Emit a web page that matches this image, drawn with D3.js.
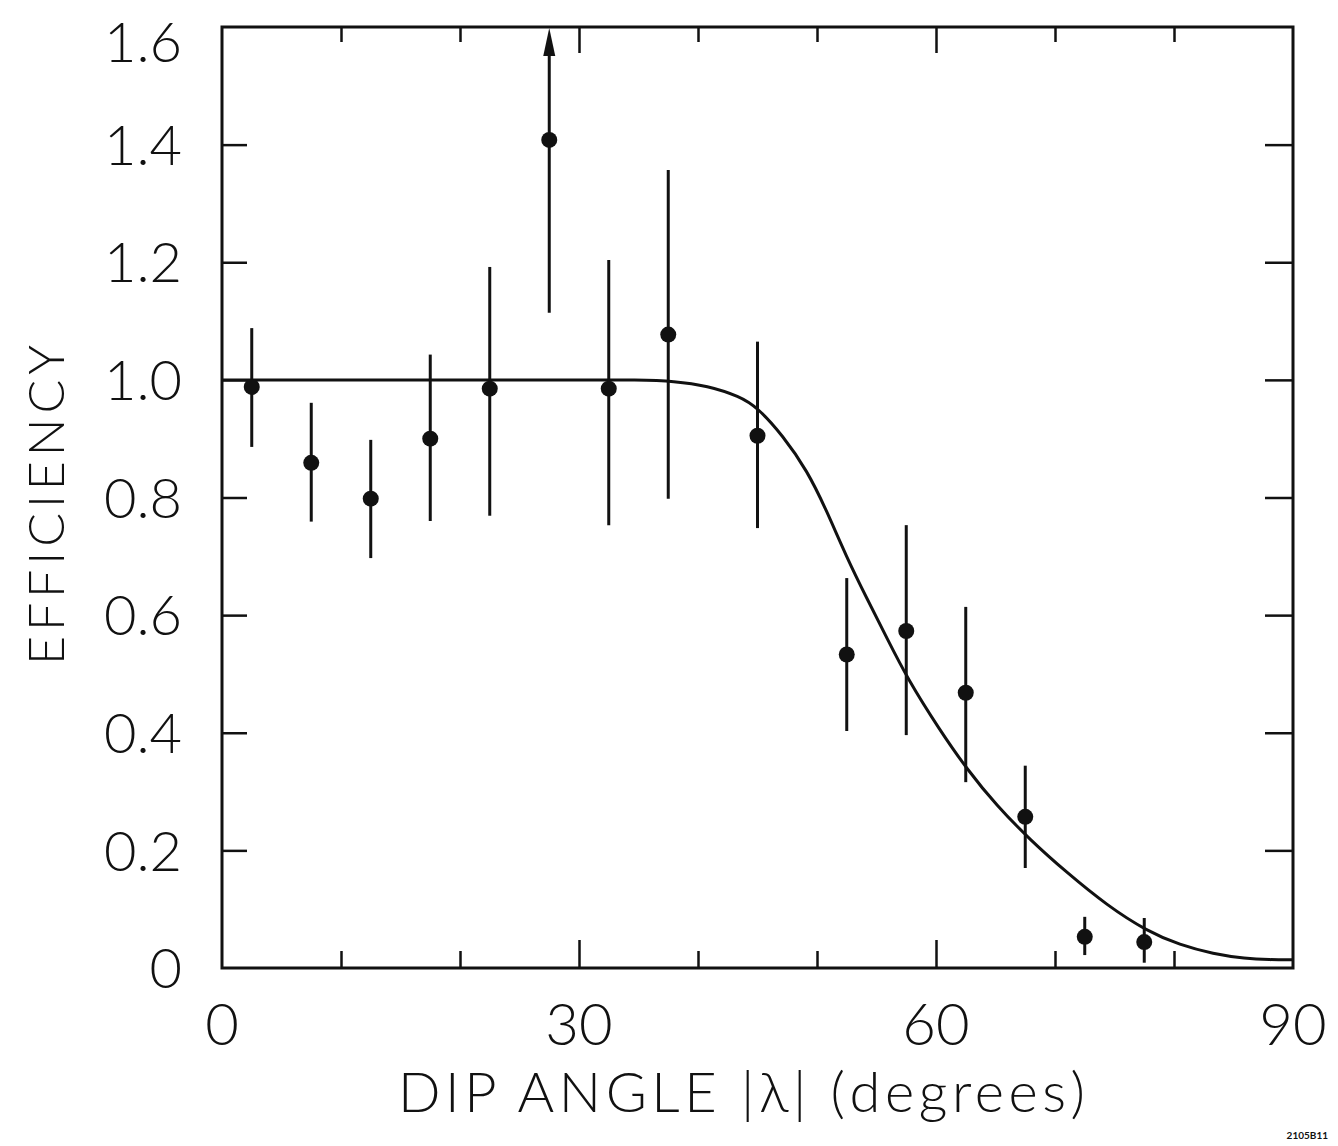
<!DOCTYPE html>
<meta charset="utf-8">
<style>
  body { margin: 0; background: #fff; }
  text { font-family: "Lato", "DejaVu Sans", sans-serif; font-weight: 300; fill: #111; }
  .ax path { stroke: #111; stroke-width: 3; }
  .ax line { stroke: #111; stroke-width: 2.5; }
</style>
<body>
<svg width="1338" height="1146"></svg>
<script src="https://d3js.org/d3.v7.min.js"></script>
<script>
  // measured points (degrees, efficiency, error low, error high)
  var angles = [2.5, 7.5, 12.5, 17.5, 22.5, 27.5, 32.5, 37.5, 45, 52.5, 57.5, 62.5, 67.5, 72.5, 77.5];
  var effic  = [0.988, 0.859, 0.798, 0.900, 0.985, 1.408, 0.985, 1.077, 0.905, 0.533, 0.573, 0.468, 0.257, 0.053, 0.044];
  var errLo  = [0.886, 0.759, 0.697, 0.760, 0.769, 1.114, 0.753, 0.798, 0.748, 0.403, 0.396, 0.316, 0.170, 0.022, 0.009];
  var errHi  = [1.088, 0.961, 0.898, 1.043, 1.192, 1.6, 1.204, 1.357, 1.065, 0.663, 0.753, 0.614, 0.344, 0.087, 0.085];
  var offScale = [27.5]; // error bar runs off the top -> arrow

  // fitted curve
  var curveX = [0, 10, 20, 30, 35, 38, 40.8, 43.5, 45, 47.1, 49.2, 50.8, 52.5, 54.2, 55.9, 57.6, 60.3, 62.6, 65.1, 67.9, 71, 74.4, 77.7, 80.5, 83.3, 86, 88, 90];
  var curveY = [1.0, 1.0, 1.0, 1.0, 1.0, 0.998, 0.99, 0.972, 0.953, 0.906, 0.845, 0.778, 0.698, 0.628, 0.560, 0.492, 0.405, 0.338, 0.276, 0.218, 0.162, 0.106, 0.063, 0.039, 0.024, 0.016, 0.014, 0.014];

  var yTickLabels = ["0", "0.2", "0.4", "0.6", "0.8", "1.0", "1.2", "1.4", "1.6"];
  var yTickVals = [0, 0.2, 0.4, 0.6, 0.8, 1.0, 1.2, 1.4, 1.6];
  var xTickVals = [0, 30, 60, 90];
  var xMinor = [10, 20, 30, 40, 50, 60, 70, 80];

  var svg = d3.select("svg");
  var mLeft = 222, mRight = 1293, mTop = 27, mBottom = 968;

  var x = d3.scaleLinear().domain([0, 90]).range([mLeft, mRight]);
  var y = d3.scaleLinear().domain([0, 1.6]).range([mBottom, mTop]);

  // frame
  svg.append("rect")
    .attr("x", mLeft).attr("y", mTop)
    .attr("width", mRight - mLeft).attr("height", mBottom - mTop)
    .attr("fill", "none").attr("stroke", "#111").attr("stroke-width", 3);

  // inward ticks, left and right
  svg.append("g").attr("class", "ax")
    .attr("transform", "translate(" + mLeft + ",0)")
    .call(d3.axisLeft(y).tickValues([0.2, 0.4, 0.6, 0.8, 1.0, 1.2, 1.4]).tickSize(-25).tickFormat(""))
    .call(function(g) { g.select(".domain").remove(); });

  svg.append("g").attr("class", "ax")
    .attr("transform", "translate(" + mRight + ",0)")
    .call(d3.axisRight(y).tickValues([0.2, 0.4, 0.6, 0.8, 1.0, 1.2, 1.4]).tickSize(-28).tickFormat(""))
    .call(function(g) { g.select(".domain").remove(); });

  // inward ticks, bottom and top (30 and 60 longer)
  var tickLen = function(d) { return (d == 30 || d == 60) ? 28 : 17; };
  var bx = svg.append("g").attr("class", "ax")
    .attr("transform", "translate(0," + mBottom + ")")
    .call(d3.axisBottom(x).tickValues(xMinor).tickSize(0).tickFormat(""));
  bx.select(".domain").remove();
  bx.selectAll(".tick line").attr("y2", function(d) { return -tickLen(d); });

  var tx = svg.append("g").attr("class", "ax")
    .attr("transform", "translate(0," + mTop + ")")
    .call(d3.axisTop(x).tickValues(xMinor).tickSize(0).tickFormat(""));
  tx.select(".domain").remove();
  tx.selectAll(".tick line").attr("y2", function(d) { return tickLen(d) - 2; });

  // tick labels (top one sits a little lower so it is not clipped)
  svg.append("g").selectAll("text")
    .data(yTickVals)
    .enter().append("text")
    .attr("x", 182)
    .attr("y", function(d) { return Math.max(y(d), 42); })
    .attr("dy", "0.36em")
    .attr("text-anchor", "end")
    .style("font-size", "56px")
    .text(function(d, i) { return yTickLabels[i]; });

  svg.append("g").selectAll("text")
    .data(xTickVals)
    .enter().append("text")
    .attr("x", function(d) { return x(d); })
    .attr("y", 1045)
    .attr("text-anchor", "middle")
    .style("font-size", "58px")
    .text(function(d) { return d; });

  // axis titles
  svg.append("text")
    .attr("x", 398).attr("y", 1112)
    .attr("textLength", 687).attr("lengthAdjust", "spacing")
    .style("font-size", "56px")
    .text("DIP ANGLE |λ| (degrees)");

  svg.append("text")
    .attr("transform", "translate(64,665) rotate(-90)")
    .attr("textLength", 320).attr("lengthAdjust", "spacing")
    .style("font-size", "50px")
    .text("EFFICIENCY");

  svg.append("text")
    .attr("x", 1328).attr("y", 1139)
    .attr("text-anchor", "end")
    .style("font-size", "10px").style("font-weight", "700")
    .text("2105B11");

  // curve
  var line = d3.line()
    .x(function(d) { return x(d[0]); })
    .y(function(d) { return y(d[1]); })
    .curve(d3.curveBasis);

  svg.append("path")
    .datum(curveX.map(function(d, i) { return [d, curveY[i]]; }))
    .attr("d", line)
    .attr("fill", "none").attr("stroke", "#111").attr("stroke-width", 3);

  // error bars
  svg.append("g").selectAll("line")
    .data(angles)
    .enter().append("line")
    .attr("x1", function(d) { return x(d); })
    .attr("x2", function(d) { return x(d); })
    .attr("y1", function(d, i) { return y(errLo[i]); })
    .attr("y2", function(d, i) { return offScale.indexOf(d) >= 0 ? y(errHi[i]) + 20 : y(errHi[i]); })
    .attr("stroke", "#111").attr("stroke-width", 3);

  // arrowhead for the bar that goes off scale
  svg.append("g").selectAll("path")
    .data(offScale)
    .enter().append("path")
    .attr("d", function(d) {
      var cx = x(d), ty = y(1.6) + 1;
      return "M" + cx + "," + ty + "L" + (cx - 6) + "," + (ty + 28) + "L" + (cx + 6) + "," + (ty + 28) + "Z";
    })
    .attr("fill", "#111");

  // points
  svg.append("g").selectAll("circle")
    .data(angles)
    .enter().append("circle")
    .attr("cx", function(d) { return x(d); })
    .attr("cy", function(d, i) { return y(effic[i]); })
    .attr("r", 8)
    .attr("fill", "#111");
</script>
</body>
